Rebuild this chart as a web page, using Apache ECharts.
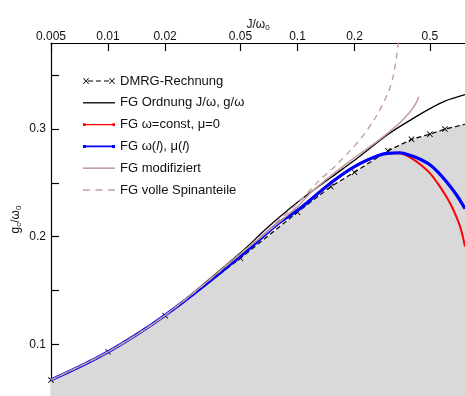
<!DOCTYPE html>
<html>
<head>
<meta charset="utf-8">
<script src="https://cdn.jsdelivr.net/npm/echarts@6/dist/echarts.min.js"></script>
<style>
  html, body { margin: 0; padding: 0; background: #fff; }
  #main { width: 465px; height: 396px; }
</style>
</head>
<body>
<div id="main"></div>
<script>
// DMRG reference points (last one only carries the line to the edge)
const dmrgX = [0.005, 0.01, 0.02, 0.05, 0.1, 0.15, 0.2, 0.3, 0.4, 0.5, 0.6, 0.766]
const dmrgY = [0.0668, 0.0931, 0.1266, 0.180, 0.2228, 0.2466, 0.2600, 0.2798, 0.2905, 0.2953, 0.300, 0.3045]

// FG Ordnung J/w, g/w
const ordX = [0.005, 0.01, 0.02, 0.03, 0.05, 0.07, 0.1, 0.15, 0.2, 0.3, 0.4, 0.5, 0.6, 0.766]
const ordY = [0.067, 0.093, 0.127, 0.152, 0.185, 0.209, 0.232, 0.255, 0.271, 0.295, 0.309, 0.319, 0.326, 0.332]

// FG w=const, mu=0
const redX = [0.005, 0.01, 0.02, 0.05, 0.08, 0.1, 0.15, 0.2, 0.27, 0.3, 0.33, 0.37, 0.4066, 0.45, 0.5, 0.55, 0.61, 0.65, 0.689, 0.73, 0.766]
const redY = [0.067, 0.093, 0.127, 0.182, 0.213, 0.2245, 0.250, 0.2652, 0.2758, 0.2772, 0.2775, 0.2762, 0.2721, 0.2665, 0.2591, 0.2495, 0.2373, 0.2285, 0.2187, 0.2065, 0.1908]

// FG w(l), mu(l)
const blueX = [0.005, 0.01, 0.02, 0.05, 0.08, 0.1, 0.15, 0.2, 0.27, 0.3, 0.346, 0.4, 0.45, 0.5, 0.55, 0.61, 0.69, 0.766]
const blueY = [0.067, 0.093, 0.127, 0.182, 0.213, 0.2245, 0.250, 0.2652, 0.2758, 0.2775, 0.278, 0.2752, 0.2715, 0.2668, 0.2602, 0.2513, 0.239, 0.226]

// FG modifiziert
const modX = [0.005, 0.01, 0.02, 0.05, 0.1, 0.12, 0.18, 0.27, 0.346, 0.38, 0.4066, 0.425, 0.436]
const modY = [0.067, 0.093, 0.127, 0.184, 0.228, 0.2425, 0.2675, 0.290, 0.3056, 0.313, 0.3195, 0.325, 0.330]

// FG volle Spinanteile
const spinX = [0.005, 0.01, 0.02, 0.05, 0.1, 0.13, 0.16, 0.213, 0.26, 0.30, 0.32, 0.34, 0.35]
const spinY = [0.067, 0.093, 0.127, 0.184, 0.231, 0.252, 0.2665, 0.290, 0.3117, 0.3335, 0.349, 0.378, 0.395]

const xTicks = [0.005, 0.01, 0.02, 0.05, 0.1, 0.2, 0.5]
const yTicks = [0.1, 0.15, 0.2, 0.25, 0.3, 0.35]
const yLabels = [0.1, 0.2, 0.3]

const font = 'Liberation Sans, Arial, sans-serif'
const pair = (xs, ys) => xs.map((x, i) => [x, ys[i]])

// cross marker, and legend icons drawn in pixel units (32 wide)
const cross = 'path://M0,1L1,0L5,4L9,0L10,1L6,5L10,9L9,10L5,6L1,10L0,9L4,5Z'
const iconDmrg = 'path://M0,0.6L0.6,0L3,2.4L5.4,0L6,0.6L3.6,3L6,5.4L5.4,6L3,3.6L0.6,6L0,5.4L2.4,3Z' +
  'M26,0.6L26.6,0L29,2.4L31.4,0L32,0.6L29.6,3L32,5.4L31.4,6L29,3.6L26.6,6L26,5.4L28.4,3Z' +
  'M5,2.4H10V3.6H5ZM13,2.4H18V3.6H13ZM21,2.4H26V3.6H21Z'
const iconLine = 'path://M0,0H32V1.3H0Z'
const iconRed = 'path://M0,0H2.6V2.6H0ZM0,0.7H32V1.9H0ZM29.4,0H32V2.6H29.4Z'
const iconBlue = 'path://M0,0H3V3H0ZM0,0.6H32V2.4H0ZM29,0H32V3H29Z'
const iconMod = 'path://M0,0H32V1.6H0Z'
const iconSpin = 'path://M0,0H6V1.4H0ZM11,0H17V1.4H11ZM22,0H28V1.4H22Z'

const names = {
  dmrg: 'DMRG-Rechnung',
  ord: 'FG Ordnung J/ω, g/ω',
  red: 'FG ω=const, μ=0',
  blue: 'FG ω(l), μ(l)',
  mod: 'FG modifiziert',
  spin: 'FG volle Spinanteile'
}

var myChart = echarts.init(document.getElementById('main'), null, { renderer: 'canvas' })

myChart.setOption({
  animation: false,
  textStyle: { fontFamily: font },
  grid: { left: 51, right: 0, top: 43, bottom: 0 },
  legend: {
    orient: 'vertical',
    left: 78,
    top: 69,
    itemWidth: 32,
    itemHeight: 14,
    itemGap: 7.8,
    symbolKeepAspect: true,
    textStyle: {
      fontSize: 13, color: '#111', fontFamily: font, lineHeight: 14,
      rich: {
        n: { fontSize: 13, color: '#111', fontFamily: font },
        i: { fontSize: 13, color: '#111', fontFamily: font, fontStyle: 'italic' }
      }
    },
    formatter: function (name) {
      if (name === names.blue) return '{n|FG ω(}{i|l}{n|), μ(}{i|l}{n|)}'
      return name
    },
    data: [
      { name: names.dmrg, icon: iconDmrg },
      { name: names.ord, icon: iconLine },
      { name: names.red, icon: iconRed },
      { name: names.blue, icon: iconBlue },
      { name: names.mod, icon: iconMod },
      { name: names.spin, icon: iconSpin }
    ]
  },
  xAxis: {
    type: 'log',
    logBase: 10,
    position: 'top',
    min: 0.005,
    max: 0.766,
    name: 'J/ω{s|0}',
    nameLocation: 'middle',
    nameGap: 11,
    nameMoveOverlap: false,
    nameTextStyle: {
      fontSize: 12, color: '#111', fontFamily: font,
      rich: { s: { fontSize: 8, verticalAlign: 'bottom', padding: [6, 0, 0, 0] } }
    },
    axisLine: { lineStyle: { color: '#000', width: 1.2 } },
    axisTick: { inside: true, length: 8, customValues: xTicks, lineStyle: { color: '#000', width: 1.2 } },
    minorTick: { show: false },
    axisLabel: {
      customValues: xTicks,
      margin: 0,
      fontSize: 12,
      color: '#111',
      formatter: v => String(+(+v).toPrecision(3))
    },
    splitLine: { show: false }
  },
  yAxis: {
    type: 'value',
    min: 0.052,
    max: 0.38,
    name: '{n|g}{s|c}{n|/ω}{s|0}',
    nameLocation: 'middle',
    nameGap: 28,
    nameMoveOverlap: false,
    nameTextStyle: {
      fontSize: 12, color: '#111', fontFamily: font,
      rich: {
        n: { fontSize: 12, color: '#111', fontFamily: font },
        s: { fontSize: 8, color: '#111', verticalAlign: 'bottom', padding: [6, 0, 0, 0] }
      }
    },
    axisLine: { show: true, lineStyle: { color: '#000', width: 1.2 } },
    axisTick: { show: true, inside: true, length: 8, customValues: yTicks, lineStyle: { color: '#000', width: 1.2 } },
    axisLabel: {
      customValues: yLabels,
      margin: 5,
      fontSize: 12,
      color: '#111',
      formatter: v => String(+(+v).toFixed(2))
    },
    splitLine: { show: false }
  },
  series: [
    {
      name: names.dmrg,
      type: 'line',
      data: pair(dmrgX, dmrgY).map((p, i) => i === dmrgX.length - 1 ? { value: p, symbol: 'none' } : p),
      symbol: cross,
      symbolSize: 6,
      itemStyle: { color: '#000' },
      lineStyle: { color: '#000', width: 1.2, type: [5, 3] },
      areaStyle: { color: '#d9d9d9', opacity: 1, origin: 'start' },
      z: 1
    },
    {
      name: names.ord,
      type: 'line',
      data: pair(ordX, ordY),
      showSymbol: false,
      smooth: 0.3,
      itemStyle: { color: '#000' },
      lineStyle: { color: '#000', width: 1.3 },
      z: 2
    },
    {
      name: names.red,
      type: 'line',
      data: pair(redX, redY),
      showSymbol: false,
      smooth: 0.4,
      itemStyle: { color: '#ff0000' },
      lineStyle: { color: '#ff0000', width: 2 },
      z: 3
    },
    {
      name: names.blue,
      type: 'line',
      data: pair(blueX, blueY),
      showSymbol: false,
      smooth: 0.4,
      itemStyle: { color: '#0000ff' },
      lineStyle: { color: '#0000ff', width: 3.2 },
      z: 4
    },
    {
      name: names.mod,
      type: 'line',
      data: pair(modX, modY),
      showSymbol: false,
      smooth: 0.3,
      itemStyle: { color: '#c49c9c' },
      lineStyle: { color: '#c49c9c', width: 1.5 },
      z: 5
    },
    {
      name: names.spin,
      type: 'line',
      data: pair(spinX, spinY),
      showSymbol: false,
      smooth: 0.3,
      itemStyle: { color: '#c49c9c' },
      lineStyle: { color: '#c49c9c', width: 1.4, type: [6, 5] },
      z: 6
    }
  ]
})
</script>
</body>
</html>
